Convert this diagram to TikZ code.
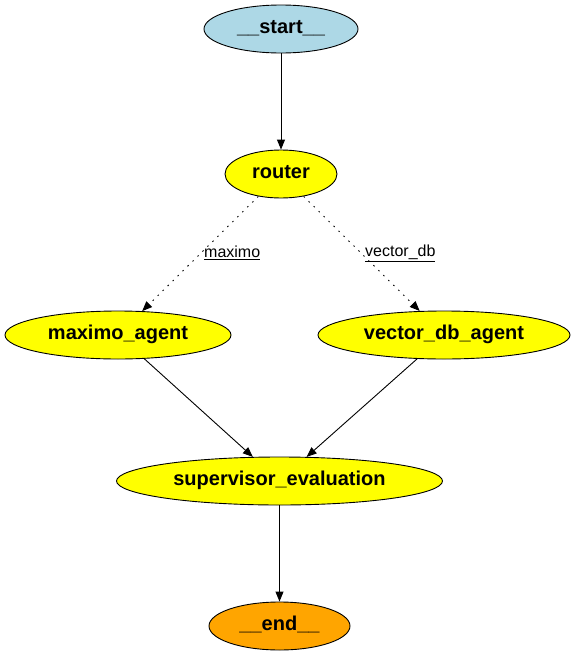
\documentclass[tikz,border=0pt]{standalone}
\usepackage{fontspec}
\setmainfont{Liberation Sans}
\usetikzlibrary{shapes.geometric,arrows.meta}
\definecolor{startblue}{RGB}{173,216,230}
\definecolor{endorange}{RGB}{255,165,0}
\definecolor{nodeyellow}{RGB}{255,255,0}
\tikzset{
  gnode/.style={ellipse,draw=black,line width=0.9pt,inner sep=0pt,minimum height=48pt,
    text height=14pt,text depth=6pt,
    font=\fontsize{20}{23}\selectfont\bfseries},
  edge/.style={line width=0.9pt,-{Triangle[length=10pt,width=8pt]}},
  dotedge/.style={edge,dash pattern=on 1.5pt off 5.5pt},
  elabel/.style={font=\fontsize{16}{19}\selectfont,inner sep=0pt,anchor=west}
}
\begin{document}
\begin{tikzpicture}[x=1pt,y=-1pt]
\useasboundingbox (0,0) rectangle (575,656);
\node[gnode,fill=startblue,minimum width=154pt] (start) at (281,29) {\_\_start\_\_};
\node[gnode,fill=nodeyellow,minimum width=112pt] (router) at (281,174) {router};
\node[gnode,fill=nodeyellow,minimum width=226pt] (maximo) at (118,335) {maximo\_agent};
\node[gnode,fill=nodeyellow,minimum width=252pt] (vector) at (444,335) {vector\_db\_agent};
\node[gnode,fill=nodeyellow,minimum width=326pt] (super) at (279.5,481) {supervisor\_evaluation};
\node[gnode,fill=endorange,minimum width=141pt] (end) at (279.5,626) {\_\_end\_\_};
\draw[edge] (start) -- (router);
\draw[dotedge] (router) -- (maximo);
\draw[dotedge] (router) -- (vector);
\draw[edge] (maximo) -- (super);
\draw[edge] (vector) -- (super);
\draw[edge] (super) -- (end);
\node[elabel] (lmax) at (204,253) {\underline{maximo}};
\node[elabel] (lvec) at (365,253) {\underline{vector\_db}};
\end{tikzpicture}
\end{document}
